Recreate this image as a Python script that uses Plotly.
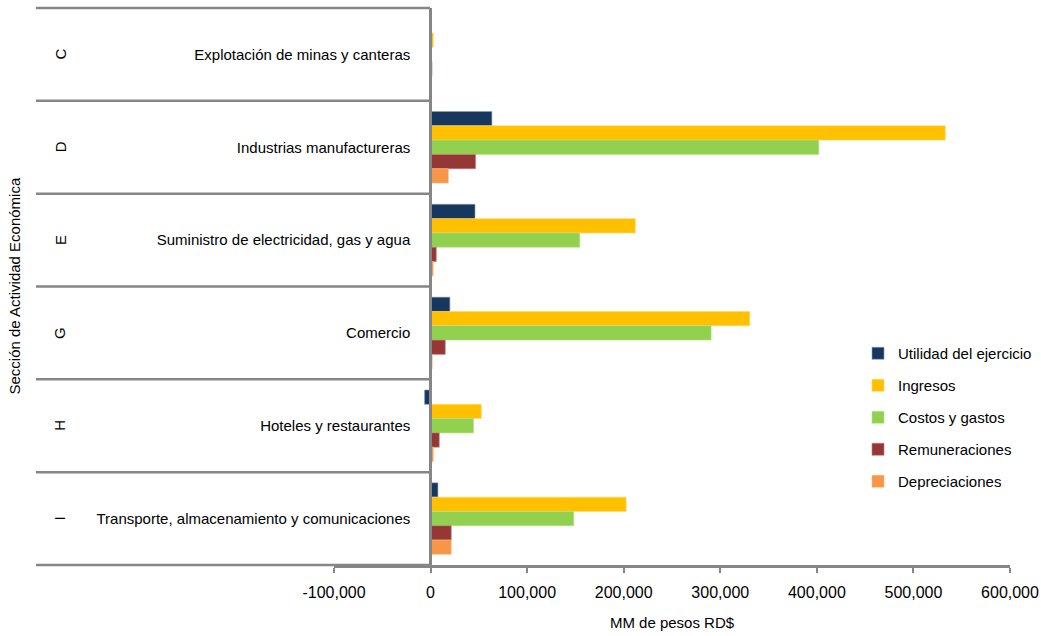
import plotly.graph_objects as go

# ---- data ----
sections = ["C", "D", "E", "G", "H", "I"]
activities = [
    "Explotación de minas y canteras",
    "Industrias manufactureras",
    "Suministro de electricidad, gas y agua",
    "Comercio",
    "Hoteles y restaurantes",
    "Transporte, almacenamiento y comunicaciones",
]
series_names = ["Utilidad del ejercicio", "Ingresos", "Costos y gastos",
                "Remuneraciones", "Depreciaciones"]
utilidad = [1000, 63500, 46000, 20000, -6200, 7600]
ingresos = [2800, 533000, 212000, 330500, 52500, 202500]
costos = [600, 402000, 154500, 290500, 44500, 148300]
remuneraciones = [1500, 46600, 5900, 15200, 9000, 21400]
depreciaciones = [600, 18400, 2700, 1700, 2800, 21400]
series_values = [utilidad, ingresos, costos, remuneraciones, depreciaciones]
colors = ["#17375E", "#FFC000", "#92D050", "#953735", "#F79646"]
line_colors = ["#8A9BB0", "#FFD966", "#B7E08A", "#C07C7A", "#F9B98A"]

x_tickvals = [-100000, 0, 100000, 200000, 300000, 400000, 500000, 600000]
x_ticktext = ["-100,000", "0", "100,000", "200,000", "300,000", "400,000",
              "500,000", "600,000"]
x_title = "MM de pesos RD$"
y_title = "Sección de Actividad Económica"

# ---- layout geometry (pixels) ----
W, H = 1041, 636
L, R, T, B = 334, 31, 8, 71
plot_w = W - L - R
plot_h = H - T - B
table_left_px = 36
zero_px = 430


def px_to_paper_x(px):
    return (px - L) / plot_w


def px_to_paper_y(py):
    return (H - B - py) / plot_h


grey = "#868686"
FONT = "Liberation Sans, Arial, sans-serif"

fig = go.Figure()
for name, vals, c, lc in zip(series_names, series_values, colors, line_colors):
    fig.add_trace(go.Bar(
        y=activities, x=vals, name=name, orientation="h",
        marker=dict(color=c, line=dict(color=lc, width=0.6)),
        legendgroup=name,
    ))

n = len(activities)
shapes = []
yaxis_pos = px_to_paper_x(zero_px)
for k in range(n + 1):
    yk = 1 - k / n
    shapes.append(dict(type="line", xref="paper", yref="paper",
                       x0=px_to_paper_x(table_left_px), x1=yaxis_pos,
                       y0=yk, y1=yk, line=dict(color=grey, width=2.5)))

annotations = []
for i, s in enumerate(sections):
    yc = 1 - (i + 0.5) / n
    annotations.append(dict(xref="paper", yref="paper", x=px_to_paper_x(60), y=yc,
                            xanchor="center", yanchor="middle",
                            text=s, showarrow=False, textangle=-90,
                            font=dict(size=15, color="#000000", family=FONT)))
annotations.append(dict(xref="paper", yref="paper", x=px_to_paper_x(14), y=0.5,
                        xanchor="center", yanchor="middle",
                        text=y_title, showarrow=False, textangle=-90,
                        font=dict(size=15, color="#000000", family=FONT)))

fig.update_layout(
    width=W, height=H,
    margin=dict(l=L, r=R, t=T, b=B, pad=0, autoexpand=False),
    paper_bgcolor="white", plot_bgcolor="white",
    barmode="group", bargap=0.23, bargroupgap=0,
    font=dict(family=FONT, size=15, color="#000000"),
    showlegend=True,
    legend=dict(x=px_to_paper_x(858), y=px_to_paper_y(337), xanchor="left",
                yanchor="top", traceorder="grouped", tracegroupgap=9.5,
                itemwidth=30, font=dict(size=15), bgcolor="rgba(0,0,0,0)"),
    shapes=shapes,
    annotations=annotations,
    xaxis=dict(range=[-100000, 600000], tickvals=x_tickvals, ticktext=x_ticktext,
               showgrid=False, zeroline=False, showline=True, linecolor=grey,
               linewidth=2.5, ticks="outside", ticklen=5, tickcolor=grey,
               tickwidth=2, tickfont=dict(size=16), ticklabelstandoff=6,
               title=dict(text=x_title, font=dict(size=15), standoff=18),
               fixedrange=True),
    yaxis=dict(autorange="reversed", anchor="free", position=yaxis_pos,
               showgrid=False, zeroline=False, showline=True, linecolor=grey,
               linewidth=2.5, ticks="", ticklabelstandoff=16,
               tickfont=dict(size=15), fixedrange=True),
)

fig.write_html(
    "out.html",
    config={"displayModeBar": False},
    post_script="document.body.style.margin='0';document.body.style.overflow='hidden';",
)
